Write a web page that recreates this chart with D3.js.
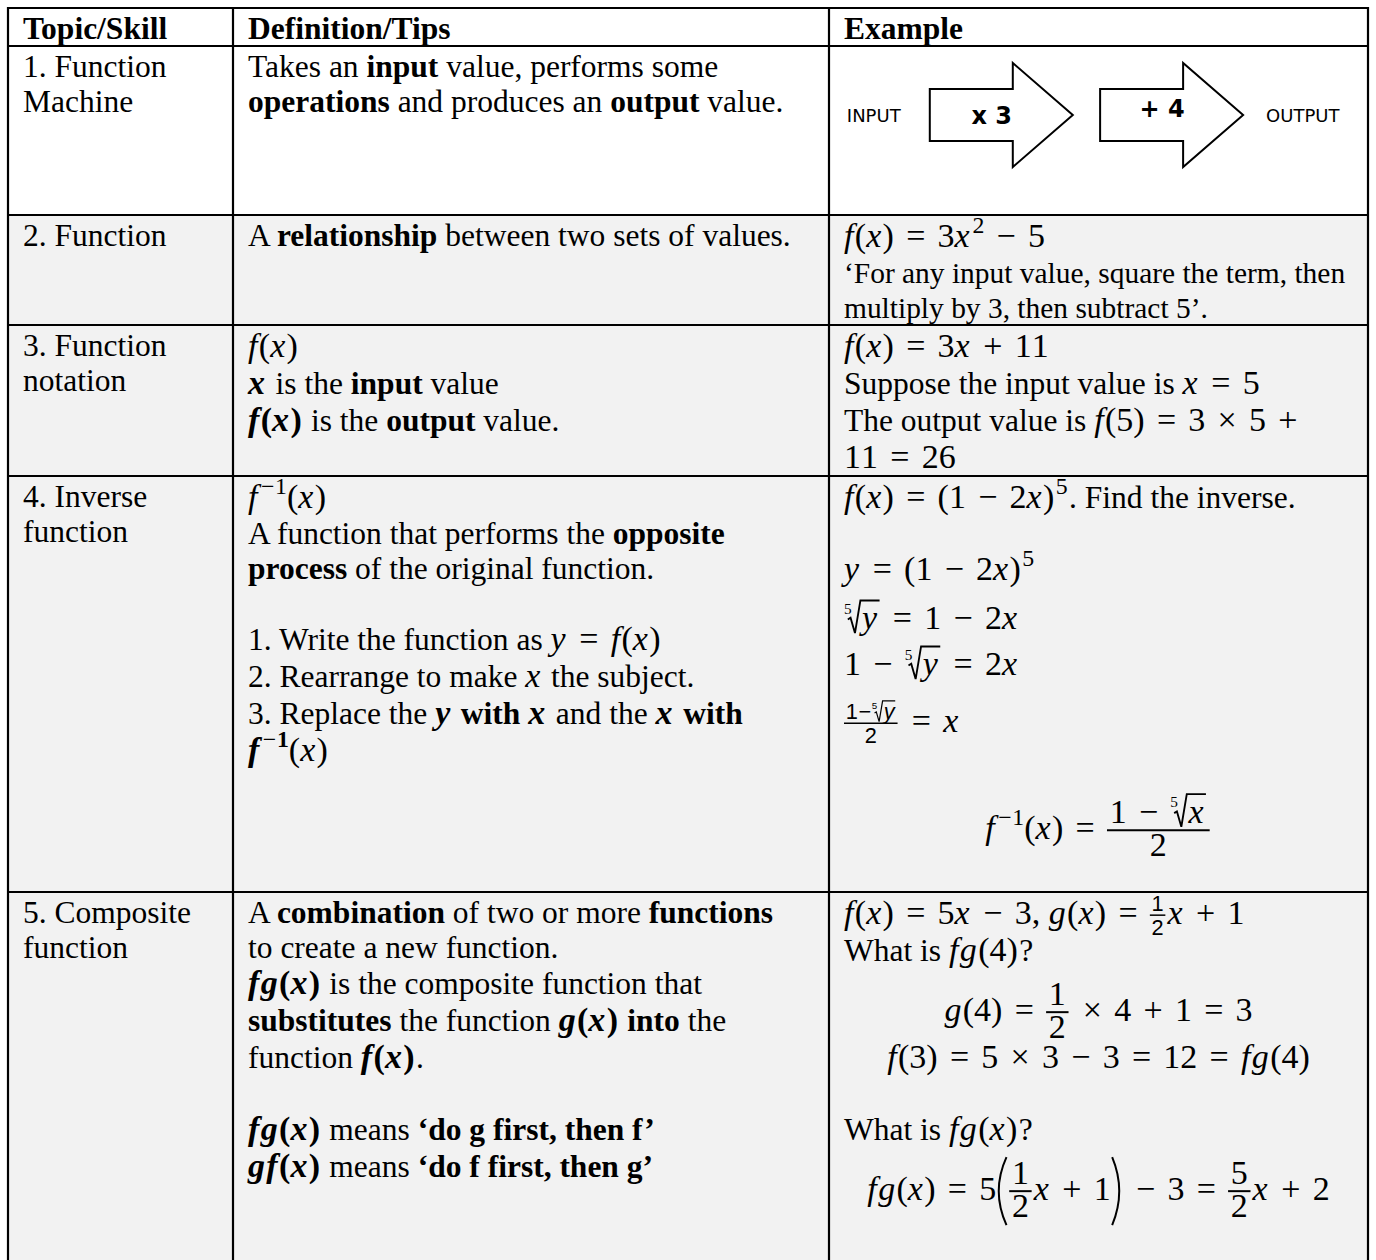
<!DOCTYPE html>
<html>
<head>
<meta charset="utf-8">
<script src="https://cdn.jsdelivr.net/npm/d3@7"></script>
<style>
  body { margin: 0; background: #fff; }
  svg { display: block; }
  text { white-space: pre; }
</style>
</head>
<body>
<script>
// ---- table content (** = bold, $ = math, $$ = display math) ----
const headers = ["Topic/Skill", "Definition/Tips", "Example"];

const topics = [
  ["1. Function", "Machine"],
  ["2. Function"],
  ["3. Function", "notation"],
  ["4. Inverse", "function"],
  ["5. Composite", "function"]
];

const definitions = [
  ["Takes an **input** value, performs some",
   "**operations** and produces an **output** value."],
  ["A **relationship** between two sets of values."],
  ["$f(x)$",
   "**$x$** is the **input** value",
   "**$f(x)$** is the **output** value."],
  ["$f^{−1}(x)$",
   "A function that performs the **opposite**",
   "**process** of the original function.",
   "",
   "1. Write the function as $y = f(x)$",
   "2. Rearrange to make $x$ the subject.",
   "3. Replace the **$y$ with $x$** and the **$x$ with**",
   "**$f^{−1}$**$(x)$"],
  ["A **combination** of two or more **functions**",
   "to create a new function.",
   "**$fg(x)$** is the composite function that",
   "**substitutes** the function **$g(x)$ into** the",
   "function **$f(x)$**.",
   "",
   "**$fg(x)$** means **‘do g first, then f’**",
   "**$gf(x)$** means **‘do f first, then g’**"]
];

const machineSteps = ["INPUT", "x 3", "+ 4", "OUTPUT"];

const examples = [
  null,
  ["$f(x) = 3x^{2} − 5$",
   "‘For any input value, square the term, then",
   "multiply by 3, then subtract 5’."],
  ["$f(x) = 3x + 11$",
   "Suppose the input value is $x = 5$",
   "The output value is $f(5) = 3 × 5 +$",
   "$11 = 26$"],
  ["$f(x) = (1 − 2x)^{5}$. Find the inverse.",
   "",
   "$y = (1 − 2x)^{5}$",
   "$\\r{5}{y} = 1 − 2x$",
   "$1 − \\r{5}{y} = 2x$",
   "$\\s{1−\\r{5}{y}}{2} = x$",
   "",
   "$$f^{−1}(x) = \\f{1 − \\r{5}{x}}{2}$$",
   ""],
  ["$f(x) = 5x − 3, g(x) = \\s{1}{2}x + 1$",
   "What is $fg(4)$?",
   "$$g(4) = \\f{1}{2} × 4 + 1 = 3$$",
   "$$f(3) = 5 × 3 − 3 = 12 = fg(4)$$",
   "",
   "What is $fg(x)$?",
   "$$fg(x) = 5\\L\\f{1}{2}x + 1\\R − 3 = \\f{5}{2}x + 2$$",
   "",
   ""]
];

// ---- layout ----
const W = 1376, H = 1260;
const colX = [8, 233, 829, 1368];
const PADX = 15;
const TXT = 31.5, MTH = 34, GAP = 0.36;
const SERIF = "'Liberation Serif','Times New Roman',serif";
const SANS = "'Liberation Sans','DejaVu Sans',sans-serif";
const COMIC = "'DejaVu Sans','Liberation Sans',sans-serif";
const MACHINE_H = 169;

const svg = d3.select("body").append("svg")
  .attr("width", W).attr("height", H);

const bgLayer = svg.append("g");
const textLayer = svg.append("g");
const gridLayer = svg.append("g");

function glyph(g, ch, x, y, size, opt) {
  const t = g.append("text")
    .attr("x", x).attr("y", y)
    .attr("font-family", opt.family || SERIF)
    .attr("font-size", size)
    .attr("font-style", opt.italic ? "italic" : "normal")
    .attr("font-weight", opt.bold ? "bold" : "normal")
    .attr("fill", "#000")
    .text(ch);
  return x + t.node().getComputedTextLength();
}

function readGroup(s, i) {
  let depth = 0, j = i;
  for (; j < s.length; j++) {
    if (s[j] === "{") depth++;
    else if (s[j] === "}") { depth--; if (depth === 0) break; }
  }
  return { text: s.slice(i + 1, j), end: j + 1 };
}

const OPS = "=+−×";

function drawMath(g, s, x, y, size, bold, tight, family) {
  let i = 0;
  while (i < s.length) {
    const c = s[i];
    if (c === " ") { i++; continue; }
    if (c === "\\") {
      const cmd = s[i + 1]; i += 2;
      if (cmd === "L" || cmd === "R") { x = drawParen(g, cmd, x, y, size); continue; }
      const a = readGroup(s, i); i = a.end;
      const b = readGroup(s, i); i = b.end;
      if (cmd === "r") x = drawRoot(g, a.text, b.text, x, y, size, bold, tight, family);
      else x = drawFrac(g, a.text, b.text, x, y, size, bold, cmd === "s");
      continue;
    }
    if (c === "^") {
      const a = readGroup(s, i + 1); i = a.end;
      x = drawMath(g, a.text, x + size * 0.04, y - size * 0.4, size * 0.7, bold, true, family);
      continue;
    }
    const italic = /[A-Za-z]/.test(c);
    if (OPS.includes(c)) {
      const gap = tight ? size * 0.03 : size * GAP;
      x = glyph(g, c, x + gap, y, size, { family }) + gap;
    } else if (c === ",") {
      x = glyph(g, c, x, y, size, { bold, family }) + size * 0.25;
    } else {
      x = glyph(g, c, x, y, size, { italic, bold, family });
      if (italic && !tight) x += size * 0.04;
    }
    i++;
  }
  return x;
}

function drawFrac(g, num, den, x, y, size, bold, small) {
  const fs = small ? size * 0.64 : size;
  const fam = small ? SANS : SERIF;
  const axis = y - size * 0.26;
  const gn = g.append("g"), gd = g.append("g");
  const wn = drawMath(gn, num, 0, 0, fs, bold, small, fam);
  const wd = drawMath(gd, den, 0, 0, fs, bold, small, fam);
  const pad = size * (small ? 0.05 : 0.08);
  const w = Math.max(wn, wd) + 2 * pad;
  const nb = small ? axis - size * 0.12 : axis - size * 0.22;
  const db = small ? axis + size * 0.58 : axis + size * 0.76;
  gn.attr("transform", `translate(${x + (w - wn) / 2},${nb})`);
  gd.attr("transform", `translate(${x + (w - wd) / 2},${db})`);
  g.append("line")
    .attr("x1", x).attr("x2", x + w)
    .attr("y1", axis).attr("y2", axis)
    .attr("stroke", "#000").attr("stroke-width", small ? 1.5 : 2);
  return x + w + size * 0.06;
}

function drawRoot(g, idx, rad, x, y, size, bold, tight, family) {
  const iw = glyph(g, idx, x, y - size * 0.45, size * 0.45, { family }) - x;
  const x0 = x + iw * 0.5;
  const gr = g.append("g");
  const rw = drawMath(gr, rad, 0, 0, size, bold, tight, family);
  const rx = x0 + size * 0.42;
  gr.attr("transform", `translate(${rx},${y})`);
  const top = y - size * 0.84;
  const p = d3.path();
  p.moveTo(x0, y - size * 0.28);
  p.lineTo(x0 + size * 0.08, y - size * 0.33);
  p.lineTo(x0 + size * 0.21, y + size * 0.12);
  p.lineTo(x0 + size * 0.37, top);
  p.lineTo(rx + rw + size * 0.03, top);
  g.append("path").attr("d", p.toString())
    .attr("fill", "none").attr("stroke", "#000")
    .attr("stroke-width", Math.max(1.2, size * 0.055))
    .attr("stroke-linejoin", "miter");
  return rx + rw + size * 0.06;
}

function drawParen(g, cmd, x, y, size) {
  const axis = y - size * 0.26;
  const h = size * 1.0, w = size * 0.26;
  const p = d3.path();
  if (cmd === "L") {
    p.moveTo(x + w + size * 0.04, axis - h);
    p.quadraticCurveTo(x - w * 0.6, axis, x + w + size * 0.04, axis + h);
  } else {
    p.moveTo(x + size * 0.04, axis - h);
    p.quadraticCurveTo(x + w * 1.6 + size * 0.04, axis, x + size * 0.04, axis + h);
  }
  g.append("path").attr("d", p.toString())
    .attr("fill", "none").attr("stroke", "#000").attr("stroke-width", 2);
  return x + w + size * 0.12;
}

function lineMetrics(str) {
  if (/\\f/.test(str)) return [50, 20];
  if (/\\s\{[^}]*\\r/.test(str)) return [50, 22];
  if (/\\r/.test(str)) return [39, 7];
  if (/\$/.test(str)) return [27, 10];
  return [26, 9];
}

function drawLine(parent, str, x0, y, innerW, forceBold, k) {
  const lg = parent.append("g");
  let x = 0, bold = !!forceBold, math = false, display = false, afterMath = false;
  str.split(/(\$\$|\$|\*\*)/).forEach(tok => {
    if (tok === "**") { bold = !bold; return; }
    if (tok === "$$") { math = !math; display = true; return; }
    if (tok === "$") { math = !math; return; }
    if (!tok) return;
    if (math) {
      x = drawMath(lg, tok, x, 0, MTH, bold, false, SERIF);
      afterMath = true;
    } else {
      if (afterMath) x += MTH * 0.04;
      x = glyph(lg, tok, x, 0, TXT * k, { bold });
      afterMath = false;
    }
  });
  const dx = display ? x0 + (innerW - x) / 2 : x0;
  lg.attr("transform", `translate(${dx},${y})`);
  return x;
}

// draws one cell; shrinks its text if a line would run past the cell edge
function drawCell(lines, col, top, forceBold, k = 1) {
  const x0 = colX[col] + PADX;
  const innerW = colX[col + 1] - colX[col] - 2 * PADX;
  const cg = textLayer.append("g");
  let base = null, prevDesc = 0, maxW = 0;
  lines.forEach(str => {
    const [asc, desc] = lineMetrics(str);
    base = base === null ? top + 5 + asc : base + prevDesc + asc;
    if (str) maxW = Math.max(maxW, drawLine(cg, str, x0, base, innerW, forceBold, k));
    prevDesc = desc;
  });
  if (maxW > innerW + 2 && k === 1) {
    cg.remove();
    return drawCell(lines, col, top, forceBold, innerW / maxW * 0.985);
  }
  return base + prevDesc;
}

function drawMachine(top) {
  const xs = d3.scaleLinear().domain([0, 1]).range([colX[2], colX[3]]);
  const yc = top + 69;
  const bodyLen = 83, headLen = 60, bodyH = 26, headH = 52;
  const g = textLayer.append("g");
  const labelPos = [0.083, null, null, 0.879];
  const arrowPos = [null, 0.187, 0.503, null];
  machineSteps.forEach((s, i) => {
    if (arrowPos[i] === null) {
      g.append("text")
        .attr("x", xs(labelPos[i])).attr("y", yc + 7)
        .attr("text-anchor", "middle")
        .attr("font-family", COMIC).attr("font-size", 18)
        .text(s);
      return;
    }
    const x0 = xs(arrowPos[i]);
    const pts = [
      [x0, yc - bodyH], [x0 + bodyLen, yc - bodyH], [x0 + bodyLen, yc - headH],
      [x0 + bodyLen + headLen, yc], [x0 + bodyLen, yc + headH],
      [x0 + bodyLen, yc + bodyH], [x0, yc + bodyH]
    ];
    g.append("path")
      .attr("d", d3.line()(pts) + "Z")
      .attr("fill", "#fff").attr("stroke", "#000").attr("stroke-width", 2);
    g.append("text")
      .attr("x", x0 + 62).attr("y", yc + (i === 1 ? 9 : 2))
      .attr("text-anchor", "middle")
      .attr("font-family", COMIC).attr("font-size", 24).attr("font-weight", "bold")
      .text(s);
  });
  return top + MACHINE_H;
}

// ---- build rows ----
const rowTops = [8];
let hb = 0;
headers.forEach((h, c) => { hb = Math.max(hb, drawCell([h], c, rowTops[0], true)); });
rowTops.push(hb - 2);

topics.forEach((t, r) => {
  const top = rowTops[rowTops.length - 1];
  let bottom = drawCell(t, 0, top);
  bottom = Math.max(bottom, drawCell(definitions[r], 1, top));
  bottom = Math.max(bottom, examples[r] ? drawCell(examples[r], 2, top) : drawMachine(top));
  rowTops.push(examples[r] ? bottom - 2 : bottom);
});

// backgrounds
rowTops.slice(0, -1).forEach((t, i) => {
  bgLayer.append("rect")
    .attr("x", colX[0]).attr("y", t)
    .attr("width", colX[3] - colX[0]).attr("height", rowTops[i + 1] - t)
    .attr("fill", i < 2 ? "#ffffff" : "#f2f2f2");
});

// grid
const bottomY = rowTops[rowTops.length - 1];
rowTops.forEach(y => {
  gridLayer.append("line")
    .attr("x1", colX[0] - 1).attr("x2", colX[3] + 1)
    .attr("y1", y).attr("y2", y)
    .attr("stroke", "#000").attr("stroke-width", 2.2);
});
colX.forEach(x => {
  gridLayer.append("line")
    .attr("x1", x).attr("x2", x)
    .attr("y1", rowTops[0] - 1).attr("y2", bottomY + 1)
    .attr("stroke", "#000").attr("stroke-width", 2.2);
});
</script>
</body>
</html>
